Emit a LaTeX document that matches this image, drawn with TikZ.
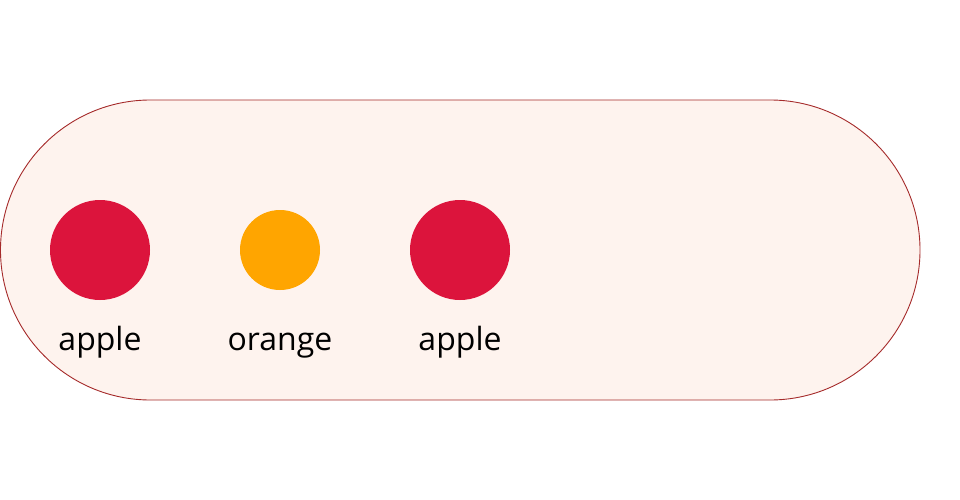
\documentclass[tikz,border=0pt]{standalone}
\usepackage{fontspec}
\setmainfont{Open Sans}
\usepackage{tikz}
\usetikzlibrary{positioning}

\definecolor{pillfill}{HTML}{FEF3EE}
\definecolor{pillline}{HTML}{A52A2A}
\definecolor{crimson}{HTML}{DC143C}
\definecolor{orangefruit}{HTML}{FFA500}

\tikzset{
	fruit/.style={circle, inner sep=0pt, draw=none},
	fruitlabel/.style={font=\fontsize{32}{38}\selectfont, inner sep=0pt, anchor=base}
}

\begin{document}
\begin{tikzpicture}[x=1pt,y=-1pt]
			\useasboundingbox (0,0) rectangle (960,500);
			
			\draw[pillline, fill=pillfill, line width=0.9pt, rounded corners=150pt] (0.5,100) rectangle (920,400);
			
			\node[fruit, fill=crimson, minimum size=100pt] (apple1) at (100,250) {};
			\node[fruit, fill=orangefruit, minimum size=80pt] (orange) at (280,250) {};
			\node[fruit, fill=crimson, minimum size=100pt] (apple2) at (460,250) {};
			
			\node[fruitlabel] (apple1label) at (100,350) {apple};
			\node[fruitlabel] (orangelabel) at (280,350) {orange};
			\node[fruitlabel] (apple2label) at (460,350) {apple};
		\end{tikzpicture}
\end{document}
